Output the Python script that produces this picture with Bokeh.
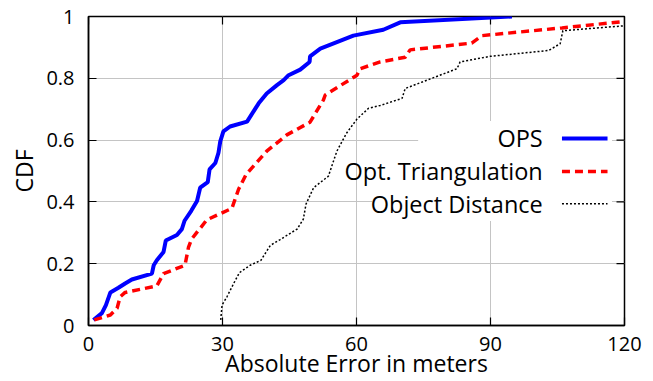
from bokeh.plotting import figure
from bokeh.models import FixedTicker, Range1d, Label, BoxAnnotation
from bokeh.embed import file_html
from bokeh.resources import INLINE

# ---------------- data ----------------
ops_err = [1.1, 3.0, 3.9, 4.9, 6.7, 8.2, 9.7, 14.2, 14.6, 15.3, 16.8, 17.3, 19.8,
           20.9, 21.5, 23.0, 24.3, 25.0, 26.7, 27.1, 28.4, 29.1, 29.5, 30.2, 31.7,
           35.5, 38.1, 39.9, 42.2, 43.7, 44.8, 47.4, 49.5, 49.6, 51.9, 59.3, 66.0,
           69.8, 94.8]
ops_cdf = [0.018, 0.04, 0.066, 0.107, 0.122, 0.136, 0.149, 0.168, 0.195, 0.211,
           0.238, 0.275, 0.293, 0.312, 0.339, 0.371, 0.403, 0.446, 0.464, 0.505,
           0.526, 0.559, 0.596, 0.628, 0.644, 0.66, 0.719, 0.751, 0.778, 0.794,
           0.81, 0.828, 0.853, 0.871, 0.896, 0.938, 0.957, 0.981, 1.0]

tri_err = [1.3, 4.9, 6.4, 7.1, 8.2, 15.3, 16.8, 21.6, 22.4, 23.1, 26.5, 32.1, 33.6,
           35.3, 39.9, 44.4, 49.6, 52.6, 53.0, 60.1, 60.8, 65.3, 70.9, 72.0, 85.8,
           88.1, 106.0, 120.0]
tri_cdf = [0.018, 0.034, 0.056, 0.093, 0.107, 0.128, 0.168, 0.195, 0.254, 0.28,
           0.342, 0.379, 0.441, 0.489, 0.564, 0.617, 0.658, 0.73, 0.746, 0.81,
           0.831, 0.853, 0.868, 0.892, 0.914, 0.938, 0.963, 0.984]

obj_err = [29.6, 29.9, 31.0, 32.5, 33.8, 36.2, 38.6, 40.7, 42.9, 46.7, 48.1, 48.7,
           50.4, 53.7, 55.6, 57.8, 60.1, 62.7, 65.3, 70.2, 70.9, 82.5, 83.2, 89.9,
           103.0, 105.6, 106.2, 120.0]
obj_cdf = [0.018, 0.066, 0.093, 0.136, 0.171, 0.195, 0.211, 0.259, 0.278, 0.312,
           0.344, 0.393, 0.446, 0.483, 0.564, 0.623, 0.668, 0.703, 0.712, 0.735,
           0.767, 0.831, 0.853, 0.871, 0.89, 0.912, 0.954, 0.97]

series_names = ["OPS", "Opt. Triangulation", "Object Distance"]
x_ticks = [0, 30, 60, 90, 120]
y_ticks = [0, 0.2, 0.4, 0.6, 0.8, 1]
y_tick_labels = ["0", "0.2", "0.4", "0.6", "0.8", "1"]

X_MIN, X_MAX = 0, 120
Y_MIN, Y_MAX = 0, 1

FONT = "Open Sans"
TICK_FS = "20px"
LABEL_FS = "23px"
KEY_FS = "23.5px"

W, H = 653, 381
BL, BR, BT, BB = 88, 29, 16, 55
FRAME_W = W - BL - BR
FRAME_H = H - BT - BB

p = figure(width=W, height=H, output_backend="svg", toolbar_location=None,
           x_range=Range1d(X_MIN, X_MAX), y_range=Range1d(Y_MIN, Y_MAX),
           min_border_left=BL, min_border_right=BR, min_border_top=BT,
           min_border_bottom=BB)
p.outline_line_color = "black"
p.outline_line_width = 1.5
p.background_fill_color = "white"
p.border_fill_color = "white"

# grid
p.xgrid.ticker = FixedTicker(ticks=x_ticks[1:-1])
p.ygrid.ticker = FixedTicker(ticks=y_ticks[1:-1])
for g in (p.xgrid, p.ygrid):
    g.grid_line_color = "#c4c4c4"
    g.grid_line_width = 1

# main axes, inward ticks
for ax, ticks in ((p.xaxis[0], x_ticks), (p.yaxis[0], y_ticks)):
    ax.ticker = FixedTicker(ticks=ticks)
    ax.major_tick_in = 8
    ax.major_tick_out = 0
    ax.minor_tick_line_color = None
    ax.axis_line_color = "black"
    ax.axis_line_width = 1.5
    ax.major_tick_line_color = "black"
    ax.major_tick_line_width = 1.2
    ax.major_label_text_font = FONT
    ax.major_label_text_font_size = TICK_FS
    ax.major_label_text_color = "black"
    ax.axis_label_text_font = FONT
    ax.axis_label_text_font_size = LABEL_FS
    ax.axis_label_text_font_style = "normal"
    ax.axis_label_text_color = "black"

p.xaxis[0].axis_label = "Absolute Error in meters"
p.yaxis[0].axis_label = "CDF"
p.yaxis[0].major_label_overrides = {t: s for t, s in zip(y_ticks, y_tick_labels)}
p.xaxis[0].major_label_standoff = 11
p.xaxis[0].axis_label_standoff = -7
p.yaxis[0].major_label_standoff = 14
p.yaxis[0].axis_label_standoff = 3

# mirrored inward ticks on the top and right frame edges (8 px long)
tick_len_y = 8 / FRAME_H * (Y_MAX - Y_MIN)
tick_len_x = 8 / FRAME_W * (X_MAX - X_MIN)
p.segment(x0=x_ticks, y0=[Y_MAX] * len(x_ticks), x1=x_ticks,
          y1=[Y_MAX - tick_len_y] * len(x_ticks), line_color="black", line_width=1.2)
p.segment(x0=[X_MAX] * len(y_ticks), y0=y_ticks, x1=[X_MAX - tick_len_x] * len(y_ticks),
          y1=y_ticks, line_color="black", line_width=1.2)

# legend background (opaque key box)
p.add_layout(BoxAnnotation(left=73.8, right=117.2, bottom=0.338, top=0.662,
                           fill_color="white", fill_alpha=1.0, line_color=None,
                           level="underlay"))
p.add_layout(BoxAnnotation(left=63.5, right=73.8, bottom=0.338, top=0.44,
                           fill_color="white", fill_alpha=1.0, line_color=None,
                           level="underlay"))

# data lines
styles = [
    dict(line_color="#0000ff", line_width=4),
    dict(line_color="#ff0000", line_width=3.5, line_dash="8 5"),
    dict(line_color="black", line_width=1.5, line_dash="2 2"),
]
data = [(ops_err, ops_cdf), (tri_err, tri_cdf), (obj_err, obj_cdf)]
for (xs, ys), st in zip(data, styles):
    p.line(xs, ys, **st)

# gnuplot-style key: text right-aligned, sample to its right
key_text_x = 101.7
key_sample = [106.0, 116.2]
key_rows = [0.6055, 0.4986, 0.394]
for name, yk, st in zip(series_names, key_rows, styles):
    p.add_layout(Label(x=key_text_x, y=yk, text=name, text_align="right",
                       text_baseline="middle", text_font=FONT,
                       text_font_size=KEY_FS, text_color="black"))
    p.line(key_sample, [yk, yk], **st)

open("out.html", "w").write(file_html(p, INLINE))
